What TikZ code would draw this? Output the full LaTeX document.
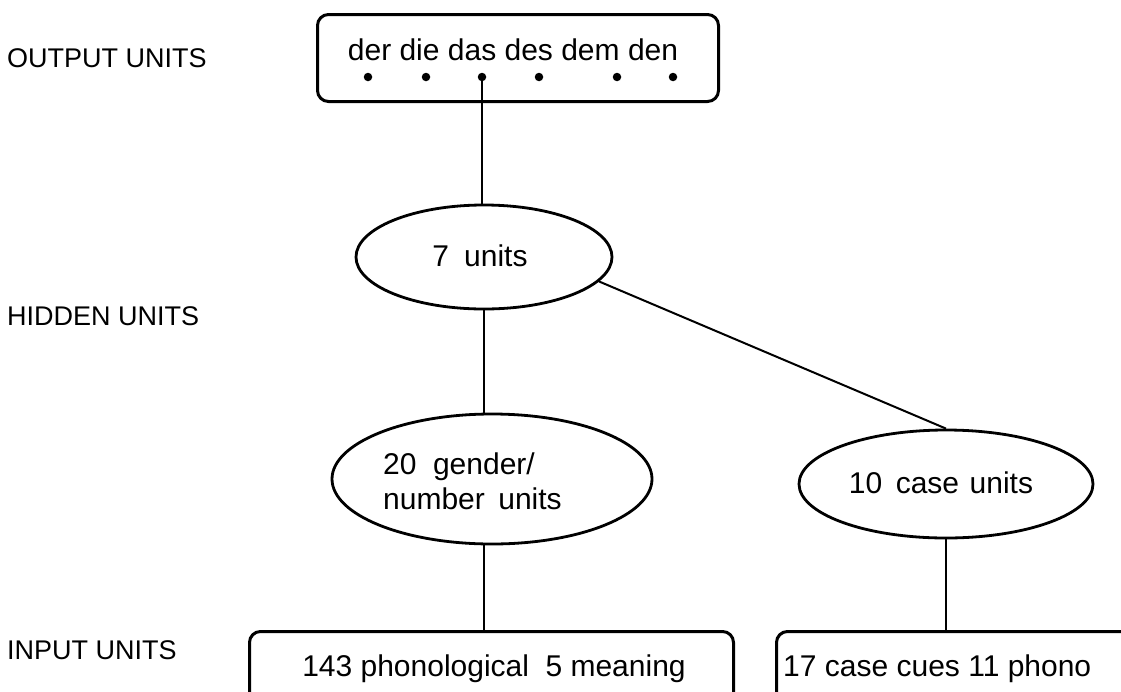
\documentclass[tikz,border=0pt]{standalone}
\usepackage{fontspec}
\setmainfont{Liberation Sans}
\usetikzlibrary{shapes.geometric}
\begin{document}
\begin{tikzpicture}[x=1pt,y=-1pt,
  lbl/.style={anchor=west,inner sep=0pt,font=\fontsize{27}{32}\selectfont},
  txt/.style={inner sep=0pt,font=\fontsize{30}{35}\selectfont},
  unitbox/.style={draw,line width=3pt,rounded corners=11pt,inner sep=0pt},
  unitell/.style={draw,ellipse,line width=2.8pt,inner sep=0pt},
  unitdot/.style={circle,fill,inner sep=0pt,minimum size=8.5pt},
  conn/.style={line width=2pt}]
\useasboundingbox (0,0) rectangle (1121,691);

% layer labels
\node[lbl] (lout) at (7,58) {OUTPUT UNITS};
\node[lbl] (lhid) at (7,316) {HIDDEN UNITS};
\node[lbl] (lin)  at (7,650) {INPUT UNITS};

% output box
\node[unitbox,anchor=north west,minimum width=401,minimum height=87] (out) at (316,13) {};
\node[txt,anchor=base] (outt) at (513,60) {der die das des dem den};
\node[unitdot] (d1) at (368,77) {};
\node[unitdot] (d2) at (426,77) {};
\node[unitdot] (d3) at (482,77) {};
\node[unitdot] (d4) at (539,77) {};
\node[unitdot] (d5) at (617,77) {};
\node[unitdot] (d6) at (673,77) {};

% hidden units
\node[unitell,minimum width=256,minimum height=104] (h7) at (484,257) {};
\node[txt,anchor=base] (h7t) at (480,266) {7\hspace{0.5em}units};

\node[unitell,minimum width=320,minimum height=130] (g) at (492,479) {};
\node[txt,anchor=base west,align=left] (gt1) at (383,474) {20\hspace{0.55em}gender/};
\node[txt,anchor=base west,align=left] (gt2) at (383,509) {number\hspace{0.45em}units};

\node[unitell,minimum width=294,minimum height=108] (c) at (946,484) {};
\node[txt,anchor=base] (ct) at (941,493) {10\hspace{0.45em}case\hspace{0.35em}units};

% input boxes
\node[unitbox,anchor=north west,minimum width=484,minimum height=100] (in1) at (248,630) {};
\node[txt,anchor=base] (in1t) at (494,676) {143 phonological\hspace{0.55em}5 meaning};
\node[unitbox,anchor=north west,minimum width=420,minimum height=100] (in2) at (775,630) {};
\node[txt,anchor=base west] (in2t) at (783,676) {17 case cues 11 phono};

% connectors
\draw[conn] (d3.center) -- (d3.center |- h7.north);
\draw[conn] (h7.south) -- (h7.south |- g.north);
\draw[conn] (h7.-12) -- (c.north);
\draw[conn] (h7.south |- g.south) -- (h7.south |- in1.north);
\draw[conn] (c.south) -- (c.south |- in2.north);
\end{tikzpicture}
\end{document}
